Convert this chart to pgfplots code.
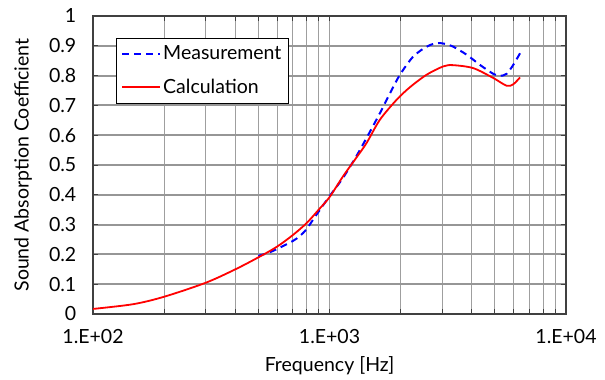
\documentclass[border=0pt]{standalone}
\usepackage{pgfplots}
\pgfplotsset{compat=1.18}
\usepackage{fontspec}
\setmainfont{Lato}
\definecolor{gridc}{RGB}{150,150,150}
\begin{document}
\fontsize{19.5}{23}\selectfont
\begin{tikzpicture}
\begin{axis}[
  scale only axis, width=473pt, height=298pt,
  xmode=log, log basis x=10,
  xmin=100, xmax=10000, ymin=0, ymax=1,
  xtick={100,1000,10000}, xticklabels={1.E+02,1.E+03,1.E+04},
  minor xtick={200,300,400,500,600,700,800,900,2000,3000,4000,5000,6000,7000,8000,9000},
  ytick={0,0.1,0.2,0.3,0.4,0.5,0.6,0.7,0.8,0.9,1},
  yticklabel style={/pgf/number format/fixed, /pgf/number format/assume math mode=true},
  xmajorgrids=true, xminorgrids=true, ymajorgrids=true,
  major x grid style={gray!75, line width=0.9pt},
  minor x grid style={gray!75, line width=0.9pt},
  major y grid style={gridc, line width=2pt},
  axis line style={black!75, line width=1.2pt},
  tick style={black!75, line width=0.8pt},
  major tick length=5pt, minor tick length=5pt,
  tick label style={font=\fontsize{19.5}{23}\selectfont},
  xticklabel style={yshift=-9pt},
  yticklabel style={xshift=-10pt},
  xlabel={Frequency [Hz]}, ylabel={Sound Absorption Coefficient},
  xlabel style={yshift=1pt},
  ylabel style={yshift=4pt},
  label style={font=\fontsize{19.5}{23}\selectfont},
  legend style={at={(0.048,0.925)}, anchor=north west, draw=black, line width=1pt,
    font=\fontsize{19.5}{23}\selectfont, inner xsep=5pt, inner ysep=5pt, row sep=12pt},
  legend cell align=left,
  legend image code/.code={\draw[#1] (0pt,0pt) -- (38pt,0pt);},
]
\addplot[blue, line width=2pt, dash pattern=on 7pt off 5pt, smooth] coordinates {
(500,0.195) (550,0.205) (600,0.218) (700,0.245) (750,0.262) (800,0.285) (884,0.335) (1000,0.395)
(1143,0.458) (1300,0.53) (1435,0.591) (1634,0.674) (1803,0.741) (1986,0.803)
(2260,0.864) (2575,0.897) (2839,0.909) (3100,0.906) (3336,0.897) (3803,0.870)
(4325,0.836) (4925,0.806) (5255,0.799) (5610,0.806) (5985,0.836) (6393,0.875)
};
\addlegendentry{Measurement}
\addplot[red, line width=1.8pt, smooth] coordinates {
(100,0.017) (148,0.033) (200,0.058) (300,0.105) (400,0.15) (500,0.19) (600,0.226)
(700,0.265) (800,0.305) (900,0.35) (1000,0.392) (1143,0.463) (1300,0.525) (1435,0.574)
(1634,0.652) (1923,0.719) (2188,0.761) (2575,0.803) (3030,0.831) (3336,0.835)
(4055,0.825) (4925,0.792) (5610,0.766) (5985,0.771) (6393,0.794)
};
\addlegendentry{Calculation}
\end{axis}
\pgfresetboundingbox
\path[use as bounding box] (current axis.south west) ++(-93pt,-66pt) rectangle ([shift={(39pt,16pt)}]current axis.north east);
\end{tikzpicture}
\end{document}
